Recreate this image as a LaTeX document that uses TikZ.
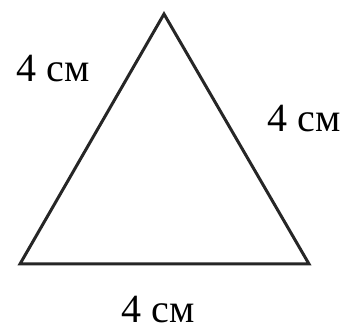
\documentclass[tikz,border=0pt]{standalone}
\usepackage{fontspec}
\setmainfont{Liberation Serif}

\begin{document}
\begin{tikzpicture}[
        x=0.5pt, y=-0.5pt,
        every node/.style={font=\fontsize{20}{24}\selectfont},
        sideLine/.style={black!85, line width=1.5pt, line join=miter},
        sideLabel/.style={inner sep=0pt, anchor=center}
    ]
        \useasboundingbox (0,0) rectangle (347,330);

        % Vertices of the triangle
        \coordinate (Apex) at (164,14);
        \coordinate (BotL) at (20,264);
        \coordinate (BotR) at (309,264);

        % Sides
        \draw[sideLine] (Apex) -- (BotR) -- (BotL) -- cycle;

        % Side lengths
        \node[sideLabel] (lenL) at (53,69) {4 см};
        \node[sideLabel] (lenR) at (304,119) {4 см};
        \node[sideLabel] (lenB) at (158,310) {4 см};

    \end{tikzpicture}
\end{document}
